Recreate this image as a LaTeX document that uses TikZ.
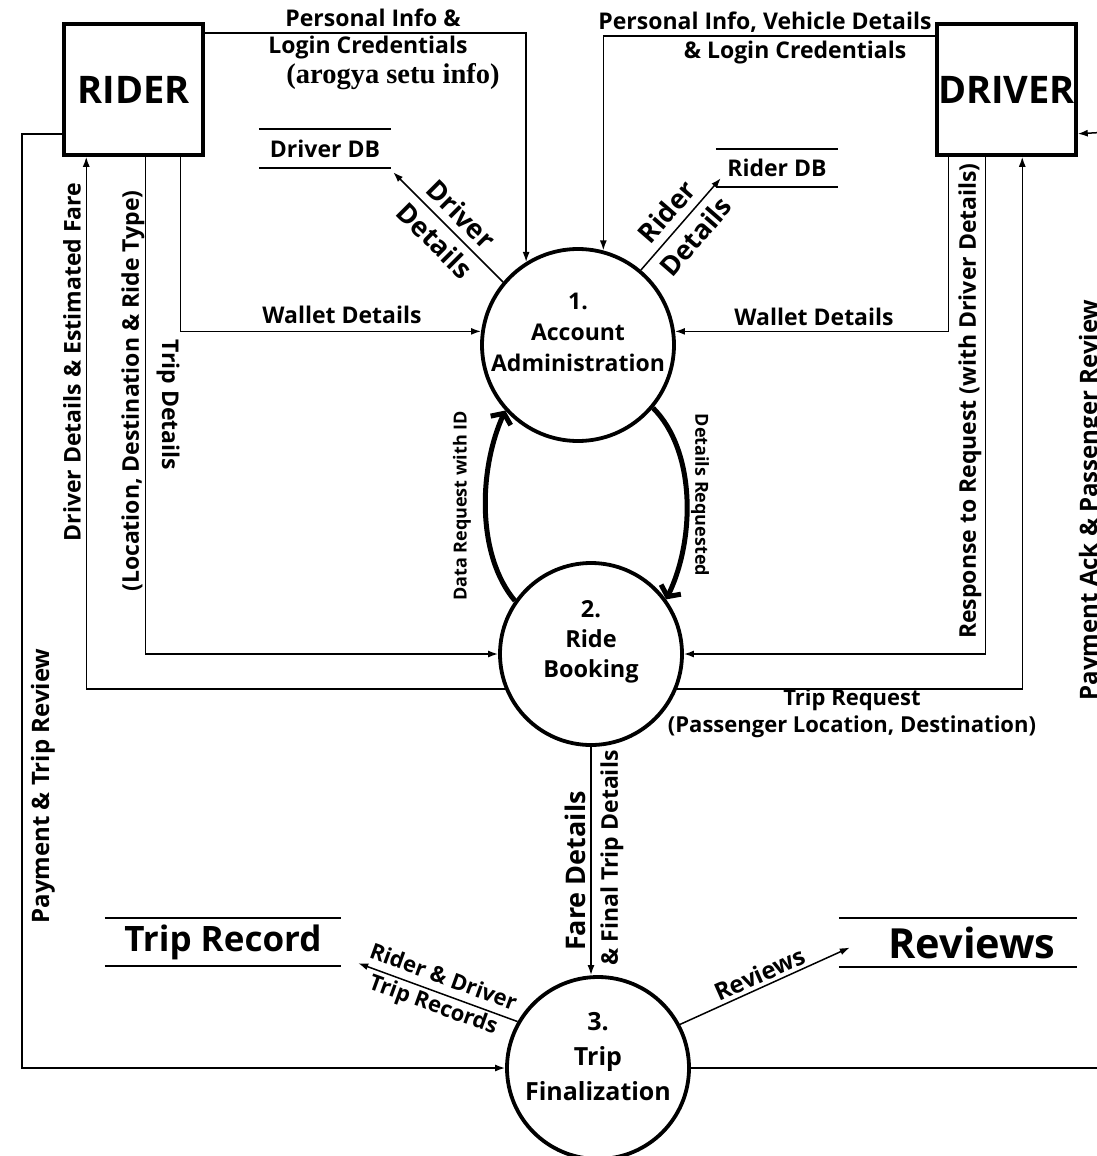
\documentclass[tikz,border=0pt]{standalone}
\usepackage{fontspec}
\setmainfont{Open Sans}
\newfontfamily\serifbf{Liberation Serif}
\usetikzlibrary{arrows.meta}
\newcommand{\myfs}[2]{\fontsize{#1}{#2}\selectfont\bfseries}
\begin{document}
\begin{tikzpicture}[x=1pt,y=-1pt]
\tikzset{
  ent/.style={draw, line width=3.5pt, minimum width=139pt, minimum height=131pt, inner sep=0pt, font=\myfs{38}{40}},
  proc/.style={draw, circle, line width=3.8pt, inner sep=0pt},
  flow/.style={line width=1.5pt, -{Latex[length=10pt,width=7pt]}},
  plain/.style={line width=1.5pt},
  bigflow/.style={line width=5pt, -{Straight Barb[length=8pt,width=22pt]}},
  lbl/.style={font=\myfs{23}{29}, inner sep=0pt, align=center},
  store/.style={inner sep=0pt},
  storeline/.style={line width=2.2pt},
}
\fill[white] (0,0) rectangle (1097,1156);
\useasboundingbox (0,0) rectangle (1097,1156);

% entities
\node[ent] (rider) at (133.5,89.5) {RIDER};
\node[ent] (driver) at (1006.5,89.5) {DRIVER};

% processes
\node[proc, minimum size=192pt] (p1) at (578,345) {};
\node[lbl, font=\myfs{23}{31}] (p1t) at ([yshift=13pt]p1.center) {1.\\Account\\Administration};
\node[proc, minimum size=182pt] (p2) at (591,654) {};
\node[lbl, font=\myfs{23.5}{30}] (p2t) at ([yshift=12pt]p2.center) {2.\\Ride\\Booking};
\node[proc, minimum size=182pt] (p3) at (598,1068) {};
\node[lbl, font=\myfs{25}{35}] (p3t) at ([yshift=11pt]p3.center) {3.\\Trip\\Finalization};

% data stores
\node[store, lbl, minimum width=132pt, minimum height=39pt] (ddb) at (325,148.5) {Driver DB};
\draw[storeline] (ddb.north west) -- (ddb.north east) (ddb.south west) -- (ddb.south east);
\node[store, lbl, minimum width=122pt, minimum height=38pt] (rdb) at (777,168) {Rider DB};
\draw[storeline] (rdb.north west) -- (rdb.north east) (rdb.south west) -- (rdb.south east);
\node[store, lbl, font=\myfs{35}{38}, minimum width=236pt, minimum height=48pt] (trec) at (223,942) {Trip Record};
\draw[storeline] (trec.north west) -- (trec.north east) (trec.south west) -- (trec.south east);
\node[store, lbl, font=\myfs{41.5}{44}, minimum width=238pt, minimum height=49pt] (rev) at (958,942.5) {\hspace*{28pt}Reviews};
\draw[storeline] (rev.north west) -- (rev.north east) (rev.south west) -- (rev.south east);

% free ends
\coordinate (lb) at (22,1068);
\coordinate (rb1) at (1110,1068);
\coordinate (rb2) at (1110,132);

% connectors: rider
\draw[flow] ([yshift=-11pt]rider.north east) -| (p1.122);
\draw[flow] ([yshift=23pt]rider.south west) -| (lb) -- (p3.west);
\draw[flow] (p2.202) -| ([xshift=24pt]rider.south west);
\draw[flow] ([xshift=83pt]rider.south west) |- (p2.west);
\draw[flow] ([xshift=118pt]rider.south west) |- (p1.172);

% connectors: driver
\draw[flow] ([yshift=-14pt]driver.north west) -| (p1.75);
\draw[flow] ([xshift=13pt]driver.south west) |- (p1.8);
\draw[flow] ([xshift=50pt]driver.south west) |- (p2.east);
\draw[flow] (p2.338) -| ([xshift=87pt]driver.south west);
\draw[plain] (p3.east) -- (rb1);
\draw[flow] (rb2) -- ([yshift=23pt]driver.south east);

% stores
\draw[flow] (p1.140) -- ([shift={(2pt,-4pt)}]ddb.south east)
  node[lbl, font=\myfs{27}{37}, pos=.5, rotate=-45] (l1) {Driver\\Details};
\draw[flow] (p1.50) -- ([shift={(5pt,9pt)}]rdb.south west)
  node[lbl, font=\myfs{27}{38}, pos=.5, rotate=49] (l2) {Rider\\Details};
\draw[flow] (p3.150) -- ([shift={(17pt,3pt)}]trec.south east)
  node[lbl, font=\myfs{22}{29}, pos=.5, rotate=-20] (l3) {Rider \& Driver\\Trip Records};
\draw[flow] (p3.28) -- ([shift={(11pt,-5pt)}]rev.west)
  node[lbl, font=\myfs{24}{28}, pos=.5, rotate=24, anchor=south, inner sep=3pt] (l4) {Reviews};

% between processes
\draw[bigflow] (p2.145) .. controls +(-38,-45) and +(-27,60) .. (p1.222);
\draw[bigflow] (p1.-40) .. controls +(43,43) and +(29,-60) .. (p2.36);
\draw[flow] (p2.south) -- (p2.south |- p3.north);

% labels
\node[lbl] (t1) at (373,18) {Personal Info \&};
\node[lbl] (t2) at (368,48) {Login Credentials};
\node[font=\serifbf\fontsize{28.5}{30}\selectfont\bfseries, inner sep=0pt] (t3) at (393,77) {(arogya setu info)};
\node[lbl] (t4) at (765,22) {Personal Info, Vehicle Details};
\node[lbl] (t5) at (795,53) {\& Login Credentials};
\node[lbl] (w1) at (342,315) {Wallet Details};
\node[lbl] (w2) at (814,317) {Wallet Details};
\node[lbl, font=\myfs{22}{27}] (tr) at (852,713) {Trip Request\\(Passenger Location, Destination)};
\node[lbl, font=\myfs{18}{22}, rotate=90] (dr) at (462,506) {Data Request with ID};
\node[lbl, font=\myfs{18}{22}, rotate=-90] (dq) at (700,495) {Details Requested};
\node[lbl, font=\myfs{27}{30}, rotate=90] (fd) at (575,871) {Fare Details};
\node[lbl, rotate=90] (ft) at (612,858) {\& Final Trip Details};
\node[lbl, rotate=90] (lab1) at (72,362) {Driver Details \& Estimated Fare};
\node[lbl, rotate=90] (lab2) at (133,391) {(Location, Destination \& Ride Type)};
\node[lbl, rotate=-90] (lab3) at (168,405) {Trip Details};
\node[lbl, font=\myfs{24}{28}, rotate=90] (lab4) at (43,786) {Payment \& Trip Review};
\node[lbl, rotate=90] (lab5) at (970,401) {Response to Request (with Driver Details)};
\node[lbl, font=\myfs{24}{28}, rotate=90] (lab6) at (1091,500) {Payment Ack \& Passenger Review};
\end{tikzpicture}
\end{document}
